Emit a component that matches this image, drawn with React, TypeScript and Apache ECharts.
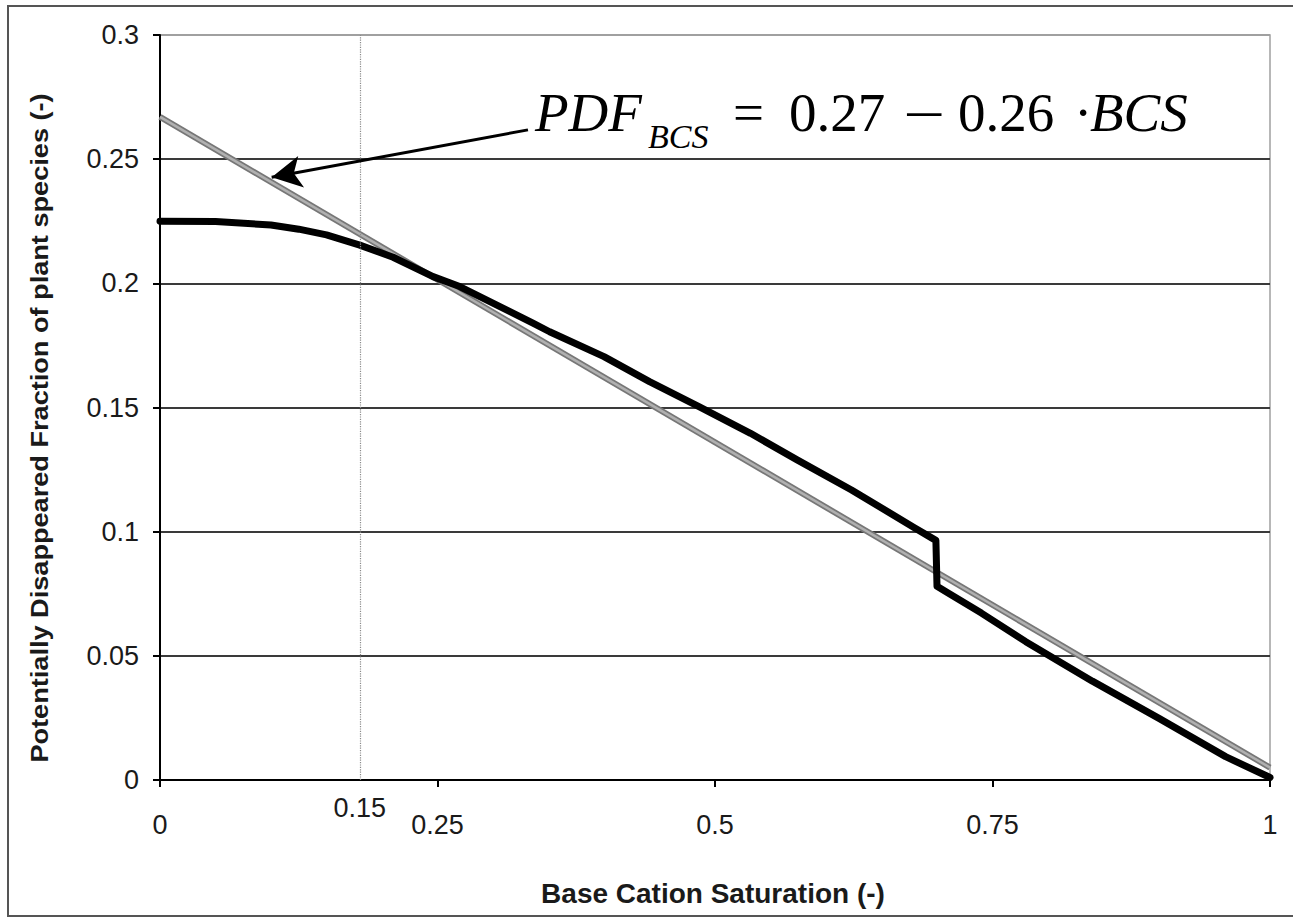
import React, { useEffect, useRef } from "react";
import * as echarts from "echarts";

// Black curve: base cation saturation vs PDF
const curveBCS = [0, 0.05, 0.1, 0.125, 0.15, 0.18, 0.21, 0.246, 0.27, 0.336, 0.351, 0.4, 0.441, 0.486, 0.532, 0.574, 0.623, 0.68, 0.694, 0.699, 0.7, 0.71, 0.74, 0.78, 0.84, 0.9, 0.96, 1.0];
const curvePDF = [0.225, 0.2249, 0.2235, 0.2218, 0.2195, 0.2154, 0.2105, 0.2027, 0.1987, 0.184, 0.1805, 0.1705, 0.1604, 0.1503, 0.1396, 0.1289, 0.1168, 0.1015, 0.0978, 0.0965, 0.078, 0.0753, 0.0672, 0.0557, 0.0398, 0.0248, 0.0094, 0.001];

// Linear fit PDF = 0.27 - 0.26 * BCS
const fitBCS = [0, 1];
const fitPDF = [0.267, 0.005];

// Reference dotted line and its label
const refX = 0.179;
const refLabel = "0.15";

// Arrow from equation to fit line (data coords)
const arrowStart = [0.3315, 0.2618];
const arrowEnd = [0.1006, 0.2427];

const xTitle = "Base Cation Saturation (-)";
const yTitle = "Potentially Disappeared Fraction of plant species (-)";

const SANS = '"Liberation Sans", Arial, sans-serif';
const SERIF = '"Liberation Serif", "Times New Roman", serif';

export default function App() {
  const ref = useRef<HTMLDivElement>(null);
  useEffect(() => {
    if (!ref.current) return;
    const chart = echarts.init(ref.current, null, { renderer: "svg" });
    const curveData = curveBCS.map((x, i) => [x, curvePDF[i]]);
    const fitData = fitBCS.map((x, i) => [x, fitPDF[i]]);
    const textColor = "#1a1a1a";
    chart.setOption({
      animation: false,
      backgroundColor: "#ffffff",
      grid: {
        left: 160,
        top: 35,
        right: 23,
        bottom: 138,
        show: true,
        borderColor: "#a0a0a0",
        borderWidth: 1.5,
      },
      xAxis: {
        type: "value",
        min: 0,
        max: 1,
        interval: 0.25,
        axisLine: { show: true, onZero: false, lineStyle: { color: "#000", width: 2 } },
        axisTick: { show: true, inside: false, length: 7, lineStyle: { color: "#000", width: 2 } },
        axisLabel: { margin: 31, fontSize: 27, fontFamily: SANS, color: textColor },
        splitLine: { show: false },
      },
      yAxis: {
        type: "value",
        min: 0,
        max: 0.3,
        interval: 0.05,
        axisLine: { show: true, onZero: false, lineStyle: { color: "#000", width: 2 } },
        axisTick: { show: true, inside: false, length: 7, lineStyle: { color: "#000", width: 2 } },
        axisLabel: { margin: 21, fontSize: 27, fontFamily: SANS, color: textColor },
        splitLine: {
          show: true,
          lineStyle: {
            color: ["#3a3a3a", "#3a3a3a", "#3a3a3a", "#3a3a3a", "#3a3a3a", "#3a3a3a", "#a0a0a0"],
            width: 2,
          },
        },
      },
      series: [
        {
          type: "line",
          data: fitData,
          symbol: "none",
          silent: true,
          z: 3,
          lineStyle: { color: "#777777", width: 6 },
          markLine: {
            silent: true,
            symbol: ["none", "none"],
            lineStyle: { color: "#8a8a8a", type: "dotted", width: 1.2 },
            label: {
              show: true,
              position: "start",
              distance: 14,
              formatter: refLabel,
              fontSize: 27,
              fontFamily: SANS,
              color: textColor,
            },
            data: [{ xAxis: refX }],
          },
        },
        {
          type: "line",
          data: fitData,
          symbol: "none",
          silent: true,
          z: 3,
          lineStyle: { color: "#b0b0b0", width: 2.5 },
        },
        {
          type: "line",
          data: curveData,
          symbol: "none",
          silent: true,
          z: 4,
          lineStyle: { color: "#000", width: 7, cap: "round", join: "round" },
          markLine: {
            silent: true,
            symbol: ["none", "arrow"],
            symbolSize: [24, 30],
            lineStyle: { color: "#000", width: 3, type: "solid" },
            label: { show: false },
            data: [[{ coord: arrowStart }, { coord: arrowEnd }]],
          },
        },
      ],
      graphic: [
        {
          type: "rect",
          silent: true,
          z: -10,
          shape: { x: 8, y: 6, width: 1300, height: 910 },
          style: { fill: "none", stroke: "#555", lineWidth: 2 },
        },
        {
          type: "text",
          x: 713,
          y: 893,
          style: {
            text: xTitle,
            font: `bold 28px ${SANS}`,
            fill: textColor,
            align: "center",
            verticalAlign: "middle",
          },
        },
        {
          type: "text",
          x: 40,
          y: 428,
          rotation: Math.PI / 2,
          scaleX: 1.18,
          style: {
            text: yTitle,
            font: `bold 23px ${SANS}`,
            fill: textColor,
            align: "center",
            verticalAlign: "middle",
          },
        },
        {
          type: "text",
          x: 535,
          y: 112,
          style: { text: "PDF", font: `italic 55px ${SERIF}`, fill: "#000", align: "left", verticalAlign: "middle" },
        },
        {
          type: "text",
          x: 648,
          y: 136,
          style: { text: "BCS", font: `italic 34px ${SERIF}`, fill: "#000", align: "left", verticalAlign: "middle" },
        },
        {
          type: "text",
          x: 733,
          y: 112,
          style: { text: "=", font: `55px ${SERIF}`, fill: "#000", align: "left", verticalAlign: "middle" },
        },
        {
          type: "text",
          x: 789,
          y: 112,
          style: { text: "0.27", font: `55px ${SERIF}`, fill: "#000", align: "left", verticalAlign: "middle" },
        },
        {
          type: "text",
          x: 903,
          y: 114,
          scaleX: 1.35,
          style: { text: "\u2212", font: `55px ${SERIF}`, fill: "#000", align: "left", verticalAlign: "middle" },
        },
        {
          type: "text",
          x: 958,
          y: 112,
          style: { text: "0.26", font: `55px ${SERIF}`, fill: "#000", align: "left", verticalAlign: "middle" },
        },
        {
          type: "text",
          x: 1074,
          y: 112,
          style: { text: "\u00b7", font: `55px ${SERIF}`, fill: "#000", align: "left", verticalAlign: "middle" },
        },
        {
          type: "text",
          x: 1090,
          y: 112,
          style: { text: "BCS", font: `italic 55px ${SERIF}`, fill: "#000", align: "left", verticalAlign: "middle" },
        },
      ],
    });
    return () => chart.dispose();
  }, []);
  return (
    <div
      ref={ref}
      style={{ position: "absolute", left: 0, top: 0, width: 1293, height: 918 }}
    />
  );
}
